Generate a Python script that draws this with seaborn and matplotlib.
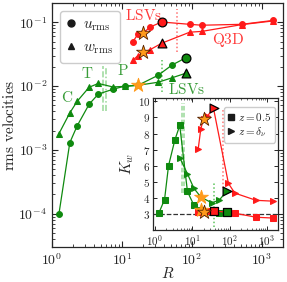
import matplotlib
matplotlib.use("Agg")
import matplotlib.pyplot as plt
from matplotlib.lines import Line2D
from matplotlib.ticker import LogLocator
import seaborn as sns

# --- data ---
R_green = [1.26, 1.8, 2.3, 3.4, 4.6, 7.4, 11, 17, 33, 52, 83]
u_green = [1.0e-4, 1.3e-3, 2.4e-3, 5.2e-3, 7.5e-3, 8.9e-3, 1.0e-2, 1.03e-2, 1.48e-2, 2.14e-2, 2.8e-2]
w_green = [1.8e-3, 3.8e-3, 5.8e-3, 9.6e-3, 1.1e-2, 9.7e-3, 9.9e-3, 1.03e-2, 1.15e-2, 1.35e-2, 1.6e-2]

R_red = [14.4, 16.9, 20, 25, 37, 93, 138, 515, 1440]
u_red = [0.050, 0.065, 0.067, 0.084, 0.101, 0.093, 0.090, 0.093, 0.107]
w_red = [0.0255, 0.030, 0.034, 0.037, 0.047, 0.070, 0.072, 0.092, 0.105]

# inset: flatness K_w
K_green_mid = [3.05, 3.9, 6.0, 7.6, 8.5, 4.4, 3.55, 3.25, 3.1, 3.05, 3.1]
K_green_bl = [6.5, 5.5, 4.6, 4.05, 3.7, 3.85, 4.4]      # from R_green[4:]
K_red_mid = [3.15, 3.15, 3.15, 3.2, 3.2, 3.1, 3.05, 2.8, 2.75]
K_red_bl = [7.05, 8.3, 8.9, 9.07, 9.56, 4.9, 4.3, 3.85, 3.8]

green_star, green_end = 7, 10
red_star, red_end = 2, 4

R_trans_T = [5.4, 6.0]     # light green double line
R_lsv_green = 37
R_lsv_red = 61

GREEN = "#0f8a0f"
RED = "#ff1a1a"
GTXT = "#3a9d3a"
RTXT = "#ff3b3b"
STAR = "#ff9a1a"

sns.set_theme(style="ticks")
plt.rcParams["font.family"] = "serif"
plt.rcParams["font.serif"] = ["cmr10", "DejaVu Serif"]
plt.rcParams["mathtext.fontset"] = "cm"
plt.rcParams["axes.formatter.use_mathtext"] = True
plt.rcParams["axes.unicode_minus"] = False

fig = plt.figure(figsize=(2.87, 2.82), dpi=100)
ax = fig.add_axes([0.181, 0.124, 0.805, 0.865])


def series(a, x, y, marker, color, ms, i_star, i_end, star_edge):
    sns.lineplot(x=x, y=y, ax=a, color=color, marker=marker, markersize=ms,
                 markeredgecolor=color, linewidth=0.9, sort=False, zorder=3)
    sns.scatterplot(x=[x[i_end]], y=[y[i_end]], ax=a, color=color, marker=marker,
                    s=40, edgecolor="black", linewidth=0.9, zorder=5)
    if i_star is not None:
        sns.scatterplot(x=[x[i_star]], y=[y[i_star]], ax=a, color=STAR, marker="*",
                        s=110, edgecolor=star_edge, linewidth=0.6, zorder=6)


series(ax, R_green, u_green, "o", GREEN, 4.2, green_star, green_end, STAR)
series(ax, R_green, w_green, "^", GREEN, 4.2, None, green_end, STAR)
series(ax, R_red, u_red, "o", RED, 4.2, red_star, red_end, "#552200")
series(ax, R_red, w_red, "^", RED, 4.2, red_star, red_end, "#552200")

ax.vlines(R_trans_T[0], 0.004, 0.021, color="#9ad89a", lw=1.1, ls=(0, (4, 1.5)), zorder=2)
ax.vlines(R_trans_T[1], 0.004, 0.021, color="#9ad89a", lw=1.1, ls=(0, (4, 1.5, 1, 1.5)), zorder=2)
ax.vlines(R_lsv_green, 0.008, 0.026, color="#5cc45c", lw=1.1, ls=(0, (1, 1.5)), zorder=2)
ax.vlines(R_lsv_red, 0.034, 0.16, color="#ff7070", lw=1.1, ls=(0, (1, 1.5)), zorder=2)

ax.set_xscale("log")
ax.set_yscale("log")
ax.set_xlim(1, 2000)
ax.set_ylim(3e-5, 0.2)
ax.set_xlabel("$R$", fontsize=11, labelpad=-1)
ax.set_ylabel(r"$\mathrm{rms\ velocities}$", fontsize=11, labelpad=1)
ax.tick_params(which="both", direction="in", top=True, right=True, labelsize=10)
ax.tick_params(which="major", length=4, width=0.8)
ax.tick_params(which="minor", length=2, width=0.6)
for s in ax.spines.values():
    s.set_linewidth(0.9)

ax.text(11, 0.128, r"$\mathrm{LSVs}$", color=RTXT, fontsize=11, va="center", ha="left")
ax.text(326, 0.052, r"$\mathrm{Q3D}$", color=RTXT, fontsize=11, va="center", ha="center")
ax.text(85, 0.0087, r"$\mathrm{LSVs}$", color=GTXT, fontsize=11, va="center", ha="center")
ax.text(1.64, 0.0067, r"$\mathrm{C}$", color=GTXT, fontsize=11, va="center", ha="center")
ax.text(3.16, 0.0155, r"$\mathrm{T}$", color=GTXT, fontsize=11, va="center", ha="center")
ax.text(10.3, 0.0175, r"$\mathrm{P}$", color=GTXT, fontsize=11, va="center", ha="center")

h_main = [Line2D([], [], ls="none", marker="o", color="k", ms=5),
          Line2D([], [], ls="none", marker="^", color="k", ms=5)]
ax.legend(h_main, [r"$u_\mathrm{rms}$", r"$w_\mathrm{rms}$"], loc="upper left",
          bbox_to_anchor=(0.0, 1.0), borderaxespad=0.5, fontsize=11, handlelength=0.6,
          handletextpad=0.5, labelspacing=0.5, borderpad=0.45, framealpha=1,
          edgecolor="#cccccc", fancybox=True)

# --- inset ---
ins = fig.add_axes([0.533, 0.184, 0.436, 0.468])
ins.set_facecolor("white")
ins.axhline(3, color="#333333", lw=0.9, ls="--", zorder=1)
series(ins, R_green, K_green_mid, "s", GREEN, 4.2, green_star, green_end, STAR)
series(ins, R_green[4:], K_green_bl, ">", GREEN, 4.2, green_star - 4, green_end - 4, STAR)
series(ins, R_red, K_red_mid, "s", RED, 4.2, red_star, red_end, "#552200")
series(ins, R_red, K_red_bl, ">", RED, 4.2, red_star, red_end, "#552200")

ins.vlines(R_trans_T, 4.3, 9.9, color="#9ad89a", lw=1.1, ls=(0, (3, 1.5)), zorder=2)
ins.vlines(R_lsv_green, 2.2, 4.9, color="#5cc45c", lw=1.1, ls=(0, (1, 1.5)), zorder=2)
ins.vlines(R_lsv_red + 4, 4.6, 9.5, color="#ff7070", lw=1.1, ls=(0, (1, 1.5)), zorder=2)

ins.set_xscale("log")
ins.set_xlim(0.88, 2000)
ins.xaxis.set_major_locator(LogLocator(base=10, numticks=10))
ins.xaxis.set_minor_locator(LogLocator(base=10, subs=range(2, 10), numticks=20))
ins.set_ylim(2.0, 10.2)
ins.set_yticks(range(3, 11))
ins.set_xlabel("")
ins.set_ylabel("$K_w$", fontsize=11, labelpad=1)
ins.tick_params(which="both", direction="in", top=True, right=True, labelsize=8, pad=2)
ins.tick_params(which="major", length=3, width=0.7)
ins.tick_params(which="minor", length=1.6, width=0.5)
for s in ins.spines.values():
    s.set_linewidth(0.9)

h_ins = [Line2D([], [], ls="none", marker="s", color="k", ms=4),
         Line2D([], [], ls="none", marker=">", color="k", ms=4)]
ins.legend(h_ins, [r"$z=0.5$", r"$z=\delta_\nu$"], loc="upper right",
           bbox_to_anchor=(1.0, 0.96), borderaxespad=0.3, fontsize=8, handlelength=0.5,
           handletextpad=0.35, labelspacing=0.2, borderpad=0.35, framealpha=1,
           edgecolor="#cccccc", fancybox=True)

fig.savefig("out.png", dpi=100)
